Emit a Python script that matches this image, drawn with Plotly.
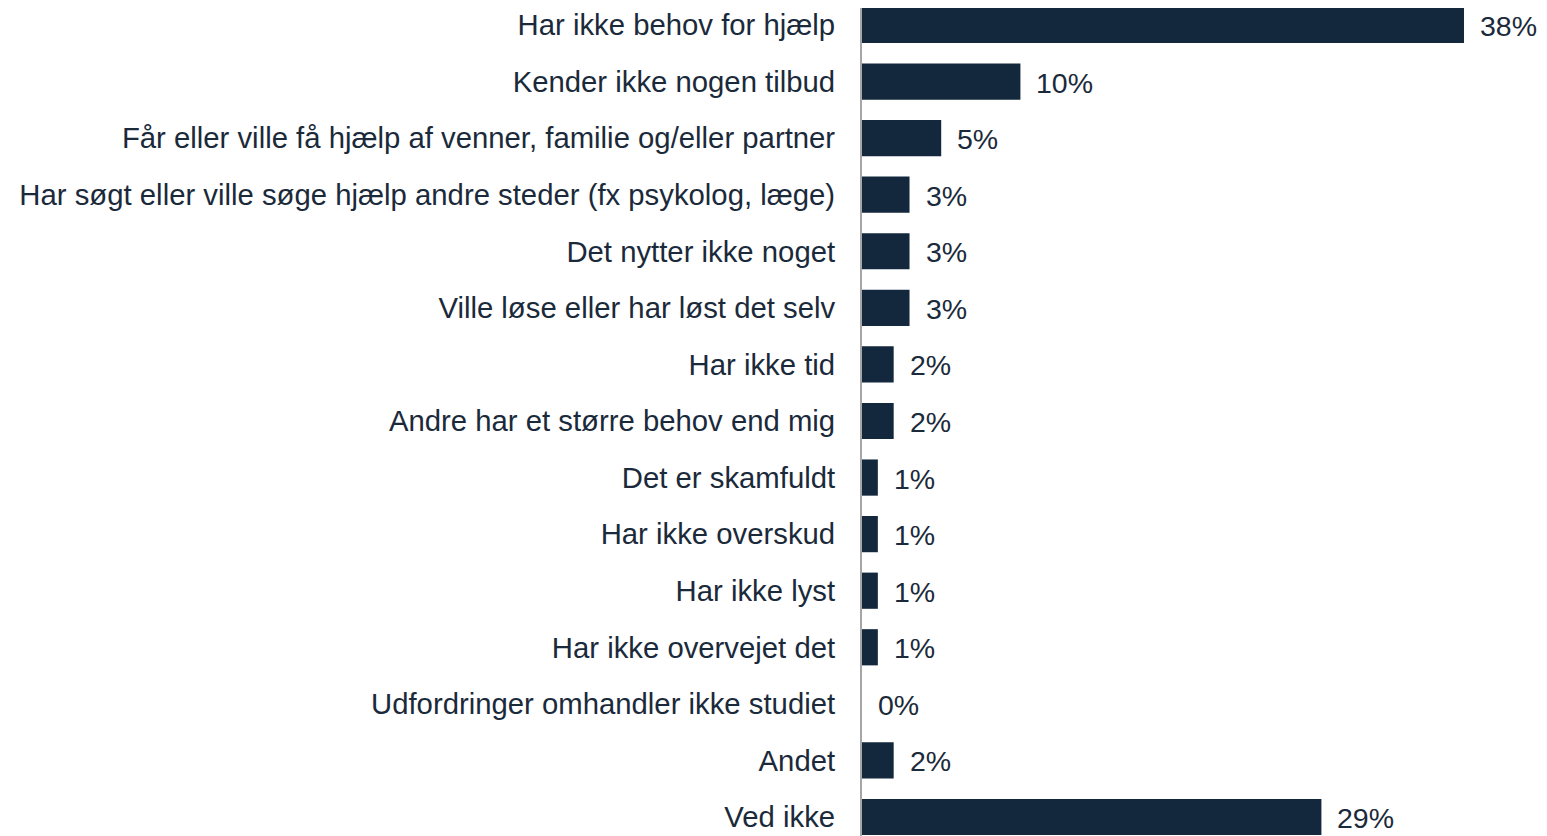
import plotly.graph_objects as go

categories = [
    "Har ikke behov for hjælp",
    "Kender ikke nogen tilbud",
    "Får eller ville få hjælp af venner, familie og/eller partner",
    "Har søgt eller ville søge hjælp andre steder (fx psykolog, læge)",
    "Det nytter ikke noget",
    "Ville løse eller har løst det selv",
    "Har ikke tid",
    "Andre har et større behov end mig",
    "Det er skamfuldt",
    "Har ikke overskud",
    "Har ikke lyst",
    "Har ikke overvejet det",
    "Udfordringer omhandler ikke studiet",
    "Andet",
    "Ved ikke",
]
values = [38, 10, 5, 3, 3, 3, 2, 2, 1, 1, 1, 1, 0, 2, 29]

bar_color = "#13283D"
text_color = "#1B2A3A"
font_family = "Liberation Sans, Arial, sans-serif"
font_size = 29.3

fig = go.Figure()
fig.add_trace(go.Bar(
    x=values,
    y=categories,
    orientation="h",
    marker=dict(color=bar_color, line=dict(width=0)),
    width=0.64,
    hoverinfo="skip",
))

for cat, val in zip(categories, values):
    fig.add_annotation(
        x=val, y=cat, text=f"{val}%",
        showarrow=False, xanchor="left", yanchor="middle",
        xshift=14, yshift=-1,
        font=dict(family=font_family, size=28.5, color=text_color),
    )

# the page body adds an 8px offset, so the figure is 8px smaller than the window
fig.update_layout(
    template="plotly_white",
    width=1539,
    height=828,
    margin=dict(l=854, r=0, t=0, b=0, autoexpand=False),
    plot_bgcolor="white",
    paper_bgcolor="white",
    showlegend=False,
    font=dict(family=font_family, size=font_size, color=text_color),
)
fig.update_xaxes(
    range=[0, 43.24], visible=False, showgrid=False, zeroline=False,
    automargin=False,
)
fig.update_yaxes(
    categoryorder="array", categoryarray=categories,
    range=[14.336, -0.3],
    showgrid=False, zeroline=False, automargin=False,
    showline=True, linecolor="#A6A6A6", linewidth=2,
    ticks="", ticklabelstandoff=19,
    tickfont=dict(family=font_family, size=font_size, color=text_color),
)

fig.write_html("out.html")
